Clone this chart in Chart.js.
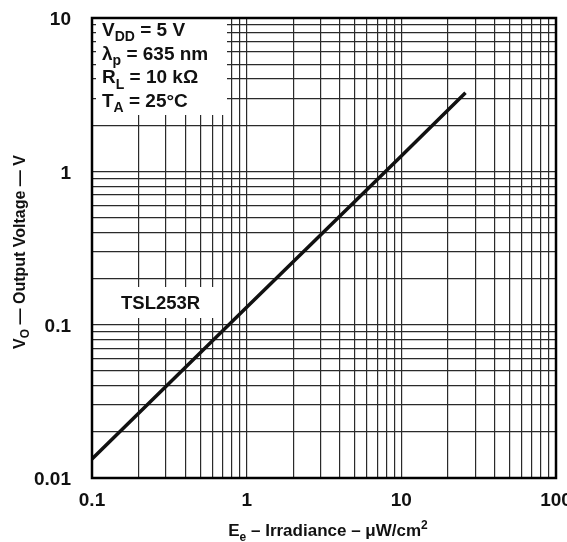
<!DOCTYPE html>
<html>
<head>
<meta charset="utf-8">
<script src="https://cdn.jsdelivr.net/npm/chart.js@4.4.1/dist/chart.umd.min.js"></script>
<style>
  html, body { margin: 0; padding: 0; background: #fff; }
  canvas { display: block; }
</style>
</head>
<body>
<canvas id="chart" width="567" height="542"></canvas>
<script>
// Output voltage vs irradiance
const irradiance = [0.1, 1, 10, 26];
const outputVoltage = [0.0133, 0.13, 1.26, 3.25];

// Decade tick labels
const xTickValues = [0.1, 1, 10, 100];
const xTickLabels = ['0.1', '1', '10', '100'];
const yTickValues = [0.01, 0.1, 1, 10];
const yTickLabels = ['0.01', '0.1', '1', '10'];

// Test conditions box: [main, subscript, rest]
const conditions = [
  ['V', 'DD', ' = 5 V'],
  ['\u03bb', 'p', ' = 635 nm'],
  ['R', 'L', ' = 10 k\u03a9'],
  ['T', 'A', ' = 25\u00b0C']
];
const partLabel = 'TSL253R';

const FONT = '"Liberation Sans", Arial, Helvetica, sans-serif';
const INK = '#111';

// 1..9 gridlines in every decade
const logGrid = (decades) => {
  const ticks = [];
  for (let i = 0; i < decades.length - 1; i++) {
    for (let k = 1; k < 10; k++) {
      ticks.push({ value: +(k * decades[i]).toPrecision(6) });
    }
  }
  ticks.push({ value: decades[decades.length - 1] });
  return ticks;
};

const labelFor = (value, values, labels) => {
  const i = values.findIndex(v => Math.abs(Math.log10(v) - Math.log10(value)) < 1e-6);
  return i >= 0 ? labels[i] : '';
};

// draw text made of segments, some of them sub/superscript
const drawRich = (ctx, x, y, segs, size, align) => {
  const small = Math.round(size * 0.72);
  const fontFor = (s) => 'bold ' + (s.s ? small : size) + 'px ' + FONT;
  let total = 0;
  segs.forEach(s => { ctx.font = fontFor(s); total += ctx.measureText(s.t).width; });
  let cx = align === 'center' ? x - total / 2 : x;
  ctx.textAlign = 'left';
  ctx.textBaseline = 'alphabetic';
  segs.forEach(s => {
    ctx.font = fontFor(s);
    const dy = s.s === 'sub' ? size * 0.28 : s.s === 'sup' ? -size * 0.42 : 0;
    ctx.fillText(s.t, cx, y + dy);
    cx += ctx.measureText(s.t).width;
  });
};

const annotations = {
  id: 'annotations',
  beforeDatasetsDraw(chart) {
    const { ctx } = chart;
    ctx.save();
    ctx.fillStyle = '#fff';
    // conditions box and part label knock out the grid
    ctx.fillRect(96, 19, 131, 96);
    ctx.fillRect(115, 287, 104, 31);
    ctx.restore();
  },
  afterDraw(chart) {
    const { ctx, chartArea: a } = chart;
    ctx.save();
    ctx.strokeStyle = '#000';
    ctx.lineWidth = 2.5;
    ctx.strokeRect(a.left, a.top, a.right - a.left, a.bottom - a.top);

    ctx.fillStyle = INK;
    conditions.forEach((c, i) => {
      drawRich(ctx, 102, 36 + i * 23.7,
        [{ t: c[0] }, { t: c[1], s: 'sub' }, { t: c[2] }], 19, 'left');
    });
    drawRich(ctx, 121, 309, [{ t: partLabel }], 18.5, 'left');

    // x axis title
    drawRich(ctx, 328, 536, [
      { t: 'E' }, { t: 'e', s: 'sub' }, { t: ' \u2013 Irradiance \u2013 \u03bcW/cm' }, { t: '2', s: 'sup' }
    ], 17, 'center');

    // y axis title
    ctx.translate(25, 252);
    ctx.rotate(-Math.PI / 2);
    drawRich(ctx, 0, 0, [
      { t: 'V' }, { t: 'O', s: 'sub' }, { t: ' \u2014 Output Voltage \u2014 V' }
    ], 16, 'center');
    ctx.restore();
  }
};

const tickFont = { family: FONT, size: 19, weight: 'bold' };

new Chart(document.getElementById('chart'), {
  type: 'line',
  data: {
    datasets: [{
      data: irradiance.map((x, i) => ({ x, y: outputVoltage[i] })),
      borderColor: '#111',
      borderWidth: 3.5,
      pointRadius: 0,
      tension: 0,
      fill: false
    }]
  },
  options: {
    responsive: false,
    animation: false,
    events: [],
    layout: { padding: { top: 18, right: 11, left: 0, bottom: 0 } },
    plugins: {
      legend: { display: false },
      tooltip: { enabled: false },
      title: { display: false }
    },
    scales: {
      x: {
        type: 'logarithmic',
        min: 0.1,
        max: 100,
        afterBuildTicks: (scale) => { scale.ticks = logGrid(xTickValues); },
        afterFit: (scale) => {
          scale.height = 64;
          scale.paddingLeft = 0; scale.paddingRight = 0;
        },
        grid: { color: '#2a2a2a', lineWidth: 1.2, drawTicks: false },
        border: { display: false },
        ticks: {
          autoSkip: false,
          maxRotation: 0,
          padding: 11,
          color: INK,
          font: tickFont,
          callback: (v) => labelFor(v, xTickValues, xTickLabels)
        }
      },
      y: {
        type: 'logarithmic',
        min: 0.01,
        max: 10,
        afterBuildTicks: (scale) => { scale.ticks = logGrid(yTickValues); },
        afterFit: (scale) => {
          scale.width = 92;
          scale.paddingTop = 0; scale.paddingBottom = 0;
        },
        grid: { color: '#2a2a2a', lineWidth: 1.2, drawTicks: false },
        border: { display: false },
        ticks: {
          autoSkip: false,
          padding: 21,
          labelOffset: 2,
          color: INK,
          font: tickFont,
          callback: (v) => labelFor(v, yTickValues, yTickLabels)
        }
      }
    }
  },
  plugins: [annotations]
});
</script>
</body>
</html>
